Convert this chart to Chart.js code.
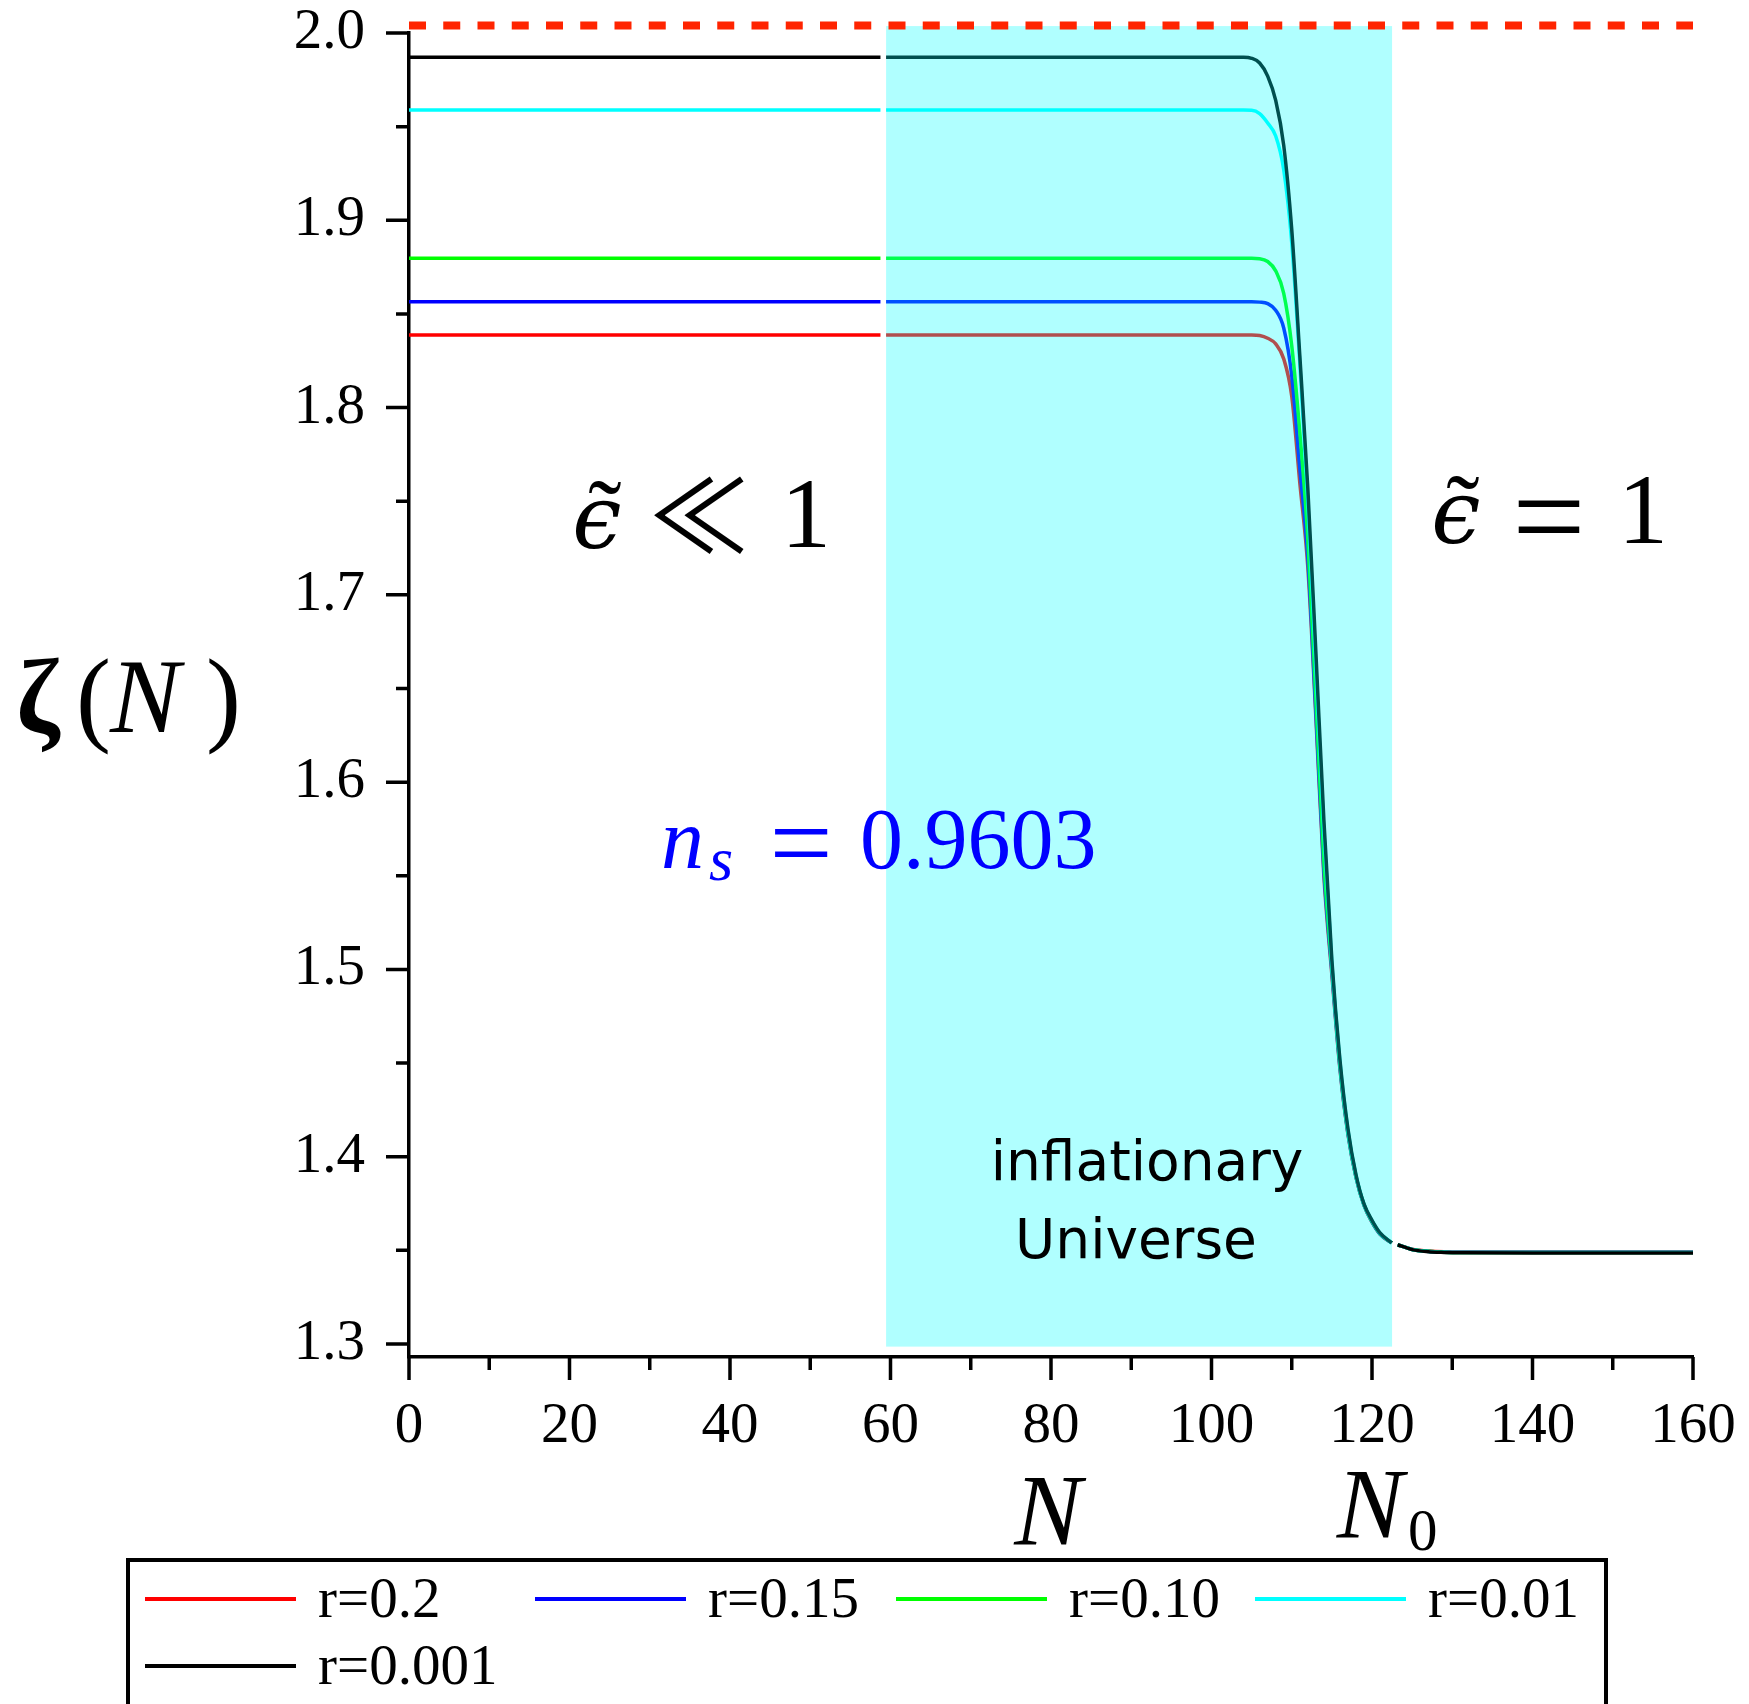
<!DOCTYPE html>
<html>
<head>
<meta charset="utf-8">
<script src="https://cdn.jsdelivr.net/npm/chart.js@4.4.1/dist/chart.umd.min.js"></script>
<style>
  html, body { margin: 0; padding: 0; background: #fff; }
  #wrap { width: 1749px; height: 1704px; }
</style>
</head>
<body>
<div id="wrap"><canvas id="zetaChart" width="1749" height="1704"></canvas></div>
<script>
// N grid shared by every curve; the null rows are the breaks at the band edges
const nValues = [0, 58.75, 59.1, 59.45, 100, 104, 105, 106, 107, 108, 109, 110, 111, 112, 113, 114, 115, 116, 117, 118, 119, 120, 121, 122.45, 122.8, 123.2, 125, 127, 129, 131, 140, 160];

// zeta(N) for each tensor-to-scalar ratio
const zetaR020 = [1.8388, 1.8388, null, 1.8388, 1.8388, 1.8388, 1.8388, 1.8385, 1.837, 1.834, 1.826, 1.806, 1.76, 1.715, 1.635, 1.55, 1.497, 1.447, 1.412, 1.389, 1.374, 1.365, 1.3585, 1.354, null, 1.353, 1.3506, 1.3496, 1.3492, 1.3491, 1.3491, 1.3491];
const zetaR015 = [1.8565, 1.8565, null, 1.8565, 1.8565, 1.8565, 1.8565, 1.8563, 1.8555, 1.852, 1.8425, 1.817, 1.768, 1.72, 1.638, 1.553, 1.499, 1.448, 1.4125, 1.3892, 1.3742, 1.3652, 1.3587, 1.354, null, 1.353, 1.3505, 1.3495, 1.3491, 1.349, 1.349, 1.349];
const zetaR010 = [1.8797, 1.8797, null, 1.8797, 1.8797, 1.8797, 1.8797, 1.8795, 1.878, 1.873, 1.861, 1.833, 1.787, 1.73, 1.645, 1.558, 1.501, 1.449, 1.413, 1.3895, 1.3744, 1.3655, 1.359, 1.354, null, 1.353, 1.3505, 1.3495, 1.349, 1.3489, 1.3489, 1.3489];
const zetaR001 = [1.9589, 1.9589, null, 1.9589, 1.9589, 1.9589, 1.9588, 1.957, 1.952, 1.945, 1.927, 1.888, 1.824, 1.75, 1.662, 1.574, 1.503, 1.451, 1.414, 1.39, 1.3745, 1.3658, 1.3592, 1.354, null, 1.353, 1.3505, 1.3494, 1.349, 1.3488, 1.3488, 1.3488];
const zetaR0001 = [1.987, 1.987, null, 1.987, 1.987, 1.987, 1.9865, 1.984, 1.977, 1.964, 1.94, 1.895, 1.828, 1.757, 1.67, 1.58, 1.505, 1.452, 1.415, 1.3905, 1.3748, 1.366, 1.3593, 1.354, null, 1.353, 1.3504, 1.3493, 1.3489, 1.3487, 1.3486, 1.3486];

const seriesLabels = ['r=0.2', 'r=0.15', 'r=0.10', 'r=0.01', 'r=0.001'];
const seriesValues = [zetaR020, zetaR015, zetaR010, zetaR001, zetaR0001];

// upper limit line and the inflationary band
const limitN = [0, 160];
const limitZeta = [2.004, 2.004];
const bandN = [59.45, 122.5];
const bandZeta = [1.2986, 2.0037];

const xTickValues = [0, 20, 40, 60, 80, 100, 120, 140, 160];
const yTickValues = [1.3, 1.4, 1.5, 1.6, 1.7, 1.8, 1.9, 2.0];

const COLORS = ['#ff0000', '#0000ff', '#00ff00', '#00ffff', '#000000'];
const SERIF = "'Liberation Serif', 'Times New Roman', serif";

function toPoints(xs, ys) {
  return xs.map((x, i) => ({ x: x, y: ys[i] }));
}

const datasets = seriesValues.map((vals, i) => ({
  label: seriesLabels[i],
  data: toPoints(nValues, vals),
  borderColor: COLORS[i],
  borderWidth: 3.5,
  pointRadius: 0,
  cubicInterpolationMode: 'monotone',
  spanGaps: false,
  order: 5 - i // black ends up on top
}));
const LIMIT_INDEX = datasets.length;
datasets.push({
  label: 'limit',
  data: toPoints(limitN, limitZeta),
  borderColor: '#ff2400',
  borderWidth: 8,
  borderDash: [17, 17.25],
  pointRadius: 0,
  clip: false,
  order: 0
});

function txt(ctx, s, x, y, font, color, align) {
  ctx.font = font;
  ctx.fillStyle = color || '#000';
  ctx.textAlign = align || 'left';
  ctx.textBaseline = 'alphabetic';
  ctx.fillText(s, x, y);
}

// keep the plot box fixed: no extra room for label overhang
function fixBox(size) {
  return (s) => {
    if (s.isHorizontal()) s.height = size; else s.width = size;
    s.paddingTop = s.paddingBottom = s.paddingLeft = s.paddingRight = 0;
  };
}

const decor = {
  id: 'decor',
  beforeDatasetDraw(chart, args) {
    // translucent band goes over the curves but under the limit line
    if (args.index !== LIMIT_INDEX) return;
    const { ctx, scales: { x, y } } = chart;
    const x0 = x.getPixelForValue(bandN[0]);
    const x1 = x.getPixelForValue(bandN[1]);
    const y0 = y.getPixelForValue(bandZeta[1]);
    const y1 = y.getPixelForValue(bandZeta[0]);
    ctx.save();
    ctx.fillStyle = 'rgba(0,255,255,0.31)';
    ctx.fillRect(x0, y0, x1 - x0, y1 - y0);
    ctx.restore();
  },
  afterDraw(chart) {
    const { ctx, chartArea, scales: { x, y } } = chart;
    ctx.save();

    // tick marks: long on labelled values, short half-way between
    ctx.strokeStyle = '#000';
    ctx.lineWidth = 3.5;
    ctx.beginPath();
    x.ticks.forEach((t, i) => {
      const px = x.getPixelForValue(t.value);
      ctx.moveTo(px, chartArea.bottom);
      ctx.lineTo(px, chartArea.bottom + 23);
      if (i < x.ticks.length - 1) {
        const mx = x.getPixelForValue((t.value + x.ticks[i + 1].value) / 2);
        ctx.moveTo(mx, chartArea.bottom);
        ctx.lineTo(mx, chartArea.bottom + 13);
      }
    });
    y.ticks.forEach((t, i) => {
      const py = y.getPixelForValue(t.value);
      ctx.moveTo(chartArea.left, py);
      ctx.lineTo(chartArea.left - 23, py);
      if (i < y.ticks.length - 1) {
        const my = y.getPixelForValue((t.value + y.ticks[i + 1].value) / 2);
        ctx.moveTo(chartArea.left, my);
        ctx.lineTo(chartArea.left - 13, my);
      }
    });
    ctx.stroke();

    // axis titles
    txt(ctx, '\u03B6', 16, 732, 'bold 105px ' + SERIF);
    txt(ctx, '(', 76, 732, '105px ' + SERIF);
    txt(ctx, 'N', 110, 732, 'italic 105px ' + SERIF);
    txt(ctx, ')', 206, 732, '105px ' + SERIF);
    txt(ctx, 'N', 1048, 1545, 'italic 101px ' + SERIF, '#000', 'center');
    txt(ctx, 'N', 1370, 1537, 'italic 100px ' + SERIF, '#000', 'center');
    txt(ctx, '0', 1408, 1550, '59px ' + SERIF);

    // regime labels
    const eps = "italic 88px 'DejaVu Serif', serif";
    txt(ctx, '\u03F5', 597, 548, eps, '#000', 'center');
    txt(ctx, '\u02DC', 605, 548, '100px ' + SERIF, '#000', 'center');
    txt(ctx, '\u226A', 699, 553, "100px 'Noto Sans CJK JP', 'DejaVu Sans', sans-serif", '#000', 'center');
    txt(ctx, '1', 806, 547, '100px ' + SERIF, '#000', 'center');
    txt(ctx, '\u03F5', 1456, 543, eps, '#000', 'center');
    txt(ctx, '\u02DC', 1463, 543, '100px ' + SERIF, '#000', 'center');
    txt(ctx, '=', 1549, 560, '130px ' + SERIF, '#000', 'center');
    txt(ctx, '1', 1643, 543, '100px ' + SERIF, '#000', 'center');

    // spectral index
    const blue = '#0000ff';
    txt(ctx, 'n', 661, 868, 'italic 86px ' + SERIF, blue);
    txt(ctx, 's', 709, 880, 'italic 62px ' + SERIF, blue);
    txt(ctx, '=', 801, 880, '112px ' + SERIF, blue, 'center');
    txt(ctx, '0.9603', 860, 868, '86px ' + SERIF, blue);

    const comic = "55px 'DejaVu Sans', sans-serif";
    txt(ctx, 'inflationary', 1147, 1180, comic, '#000', 'center');
    txt(ctx, 'Universe', 1136, 1258, comic, '#000', 'center');

    // legend box
    ctx.strokeStyle = '#000';
    ctx.lineWidth = 4;
    ctx.strokeRect(128, 1560, 1478, 220);
    const slots = [[145, 1599], [535, 1599], [896, 1599], [1255, 1599], [145, 1666]];
    chart.data.datasets.slice(0, LIMIT_INDEX).forEach((ds, i) => {
      const [lx, ly] = slots[i];
      ctx.strokeStyle = ds.borderColor;
      ctx.lineWidth = 4;
      ctx.beginPath();
      ctx.moveTo(lx, ly);
      ctx.lineTo(lx + 151, ly);
      ctx.stroke();
      ctx.font = '57px ' + SERIF;
      ctx.fillStyle = '#000';
      ctx.textAlign = 'left';
      ctx.textBaseline = 'middle';
      ctx.fillText(ds.label, lx + 173, ly + 3);
    });
    ctx.restore();
  }
};

new Chart(document.getElementById('zetaChart'), {
  type: 'line',
  data: { datasets },
  options: {
    responsive: false,
    devicePixelRatio: 1,
    animation: false,
    events: [],
    layout: { padding: { top: 33, right: 56, bottom: 0, left: 0 } },
    plugins: { legend: { display: false }, tooltip: { enabled: false } },
    scales: {
      x: {
        type: 'linear',
        min: 0,
        max: 160,
        afterFit: fixBox(347),
        afterBuildTicks: (s) => { s.ticks = xTickValues.map(v => ({ value: v })); },
        grid: { display: true, drawOnChartArea: false, drawTicks: false },
        border: { display: true, color: '#000', width: 3.5 },
        ticks: {
          padding: 42,
          color: '#000',
          maxRotation: 0,
          font: { family: SERIF, size: 57, lineHeight: 1 },
          callback: (v) => String(v)
        }
      },
      y: {
        type: 'linear',
        min: 1.29306,
        max: 2.0,
        afterFit: fixBox(409),
        afterBuildTicks: (s) => { s.ticks = yTickValues.map(v => ({ value: v })); },
        grid: { display: true, drawOnChartArea: false, drawTicks: false },
        border: { display: true, color: '#000', width: 3.5 },
        ticks: {
          padding: 44,
          color: '#000',
          font: { family: SERIF, size: 57, lineHeight: 1 },
          callback: (v) => Number(v).toFixed(1)
        }
      }
    }
  },
  plugins: [decor]
});
</script>
</body>
</html>
